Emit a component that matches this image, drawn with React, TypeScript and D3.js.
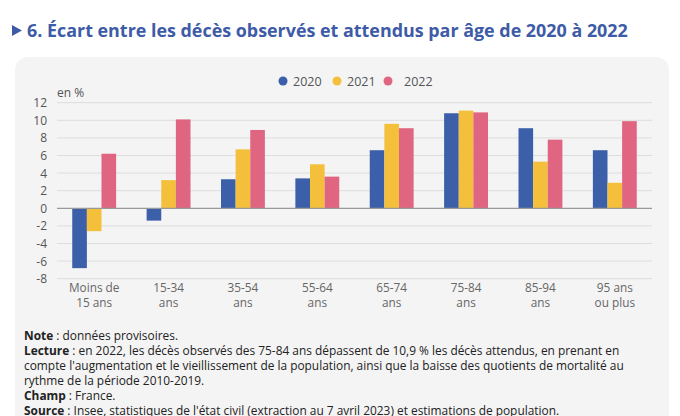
import React from "react";
import * as d3 from "d3";

const categories = [
  ["Moins de", "15 ans"],
  ["15-34", "ans"],
  ["35-54", "ans"],
  ["55-64", "ans"],
  ["65-74", "ans"],
  ["75-84", "ans"],
  ["85-94", "ans"],
  ["95 ans", "ou plus"],
];
const seriesNames = ["2020", "2021", "2022"];
const values2020 = [-6.8, -1.4, 3.3, 3.4, 6.6, 10.8, 9.1, 6.6];
const values2021 = [-2.6, 3.2, 6.7, 5.0, 9.6, 11.1, 5.3, 2.9];
const values2022 = [6.2, 10.1, 8.9, 3.6, 9.1, 10.9, 7.8, 9.9];
const yTicks = [-8, -6, -4, -2, 0, 2, 4, 6, 8, 10, 12];
const colors = ["#3b5fa9", "#f4bf3b", "#df6580"];

const footer: [string, string][] = [
  ["Note", " : données provisoires."],
  ["Lecture", " : en 2022, les décès observés des 75-84 ans dépassent de 10,9 % les décès attendus, en prenant en"],
  ["", "compte l'augmentation et le vieillissement de la population, ainsi que la baisse des quotients de mortalité au"],
  ["", "rythme de la période 2010-2019."],
  ["Champ", " : France."],
  ["Source", " : Insee, statistiques de l'état civil (extraction au 7 avril 2023) et estimations de population."],
];

export default function App() {
  const W = 680, H = 416;
  const series = [values2020, values2021, values2022];
  const x0 = d3.scaleBand<number>().domain(d3.range(categories.length)).range([57, 652]).paddingInner(0.41).paddingOuter(0.205);
  const x1 = d3.scaleBand<number>().domain([0, 1, 2]).range([0, x0.bandwidth()]);
  const y = d3.scaleLinear().domain([-8, 12]).range([278.7, 102.7]);
  const font = "'Open Sans', sans-serif";
  return (
    <svg width={W} height={H} style={{ position: "absolute", left: 0, top: 0, background: "#fff" }} fontFamily={font}>
      <rect x={15} y={57} width={654} height={400} rx={13} fill="#f4f4f4" />
      <path d="M12,25 L22,30.5 L12,36 Z" fill="#3d5ba6" />
      <text x={27} y={37} fontSize={17.9} fontWeight={700} fill="#3d5ba6">6. Écart entre les décès observés et attendus par âge de 2020 à 2022</text>
      {[[283, 293], [337, 347], [388, 404]].map(([cx, tx], i) => (
        <g key={i}>
          <circle cx={cx} cy={81} r={4.5} fill={colors[i]} />
          <text x={tx} y={85.5} fontSize={12.5} fill="#555">{seriesNames[i]}</text>
        </g>
      ))}
      <text x={57} y={97} fontSize={12} fill="#555">en %</text>
      {yTicks.map((t) => (
        <g key={t}>
          {t !== 0 && <line x1={57} x2={652} y1={y(t)} y2={y(t)} stroke="#dddddd" strokeWidth={1} />}
          <text x={47} y={y(t) + 4.5} fontSize={12} fill="#555" textAnchor="end">{t}</text>
        </g>
      ))}
      {categories.map((c, i) => (
        <g key={i} transform={`translate(${x0(i)},0)`}>
          {series.map((s, j) => (
            <rect key={j} x={x1(j)} width={x1.bandwidth()} y={y(Math.max(0, s[i]))} height={Math.abs(y(s[i]) - y(0))} fill={colors[j]} />
          ))}
          <text x={x0.bandwidth() / 2} y={292} fontSize={11.8} fill="#666" textAnchor="middle">{c[0]}</text>
          <text x={x0.bandwidth() / 2} y={306.5} fontSize={11.8} fill="#666" textAnchor="middle">{c[1]}</text>
        </g>
      ))}
      <line x1={57} x2={652} y1={y(0)} y2={y(0)} stroke="#999" strokeWidth={1.2} />
      {footer.map(([b, t], i) => (
        <text key={i} x={24} y={339.5 + i * 15} fontSize={11.9} fill="#222">
          {b && <tspan fontWeight={700}>{b}</tspan>}
          <tspan>{t}</tspan>
        </text>
      ))}
    </svg>
  );
}
